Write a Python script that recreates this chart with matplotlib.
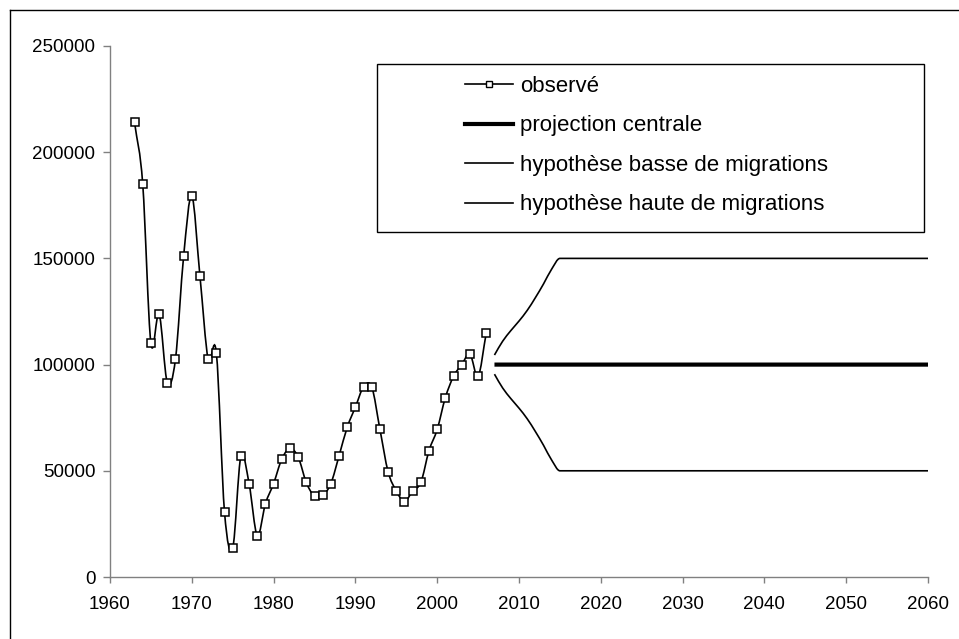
import numpy as np
import matplotlib
matplotlib.use("Agg")
import matplotlib.pyplot as plt
from matplotlib.path import Path
from matplotlib.patches import PathPatch, Rectangle
from matplotlib.lines import Line2D

plt.rcParams['font.family'] = ['Liberation Sans', 'DejaVu Sans']

# ---- data ----
obs_years = [1963, 1964, 1965, 1966, 1967, 1968, 1969, 1970, 1971, 1972, 1973,
             1974, 1975, 1976, 1977, 1978, 1979, 1980, 1981, 1982, 1983, 1984,
             1985, 1986, 1987, 1988, 1989, 1990, 1991, 1992, 1993, 1994, 1995,
             1996, 1997, 1998, 1999, 2000, 2001, 2002, 2003, 2004, 2005, 2006]
obs_values = [214000, 185000, 110000, 124000, 91500, 102500, 151000, 179500, 141500, 102500, 105500,
              30500, 13500, 57000, 44000, 19500, 34500, 44000, 55500, 60500, 56500, 44500,
              38000, 38500, 44000, 57000, 70500, 80000, 89500, 89500, 69500, 49500, 40500,
              35500, 40500, 44500, 59500, 69500, 84500, 94500, 100000, 105000, 94500, 115000]

proj_years = [2007, 2008, 2009, 2010, 2011, 2012, 2013, 2014, 2015, 2060]
central_values = [100000, 100000, 100000, 100000, 100000, 100000, 100000, 100000, 100000, 100000]
low_values = [95500, 89000, 84000, 79500, 74500, 68500, 62000, 55000, 50000, 50000]
high_values = [104500, 111000, 116000, 120500, 125500, 131500, 138000, 145000, 150000, 150000]

labels = ["observé", "projection centrale",
          "hypothèse basse de migrations", "hypothèse haute de migrations"]
x_ticks = [1960, 1970, 1980, 1990, 2000, 2010, 2020, 2030, 2040, 2050, 2060]
y_ticks = [0, 50000, 100000, 150000, 200000, 250000]


def smooth_path(x, y, kind="catmull"):
    x = np.asarray(x, float)
    y = np.asarray(y, float)
    n = len(x)
    h = np.diff(x)
    d = np.diff(y) / h
    m = np.zeros(n)
    if kind == "catmull":
        for i in range(n):
            if i == 0:
                m[i] = d[0]
            elif i == n - 1:
                m[i] = d[-1]
            else:
                m[i] = (y[i + 1] - y[i - 1]) / (x[i + 1] - x[i - 1])
    else:  # pchip-like, no overshoot
        for i in range(n):
            if i == 0:
                m[i] = d[0]
            elif i == n - 1:
                m[i] = 0.0
            else:
                if d[i - 1] * d[i] <= 0:
                    m[i] = 0.0
                else:
                    m[i] = 2.0 / (1.0 / d[i - 1] + 1.0 / d[i])
    verts = [(x[0], y[0])]
    codes = [Path.MOVETO]
    for i in range(n - 1):
        hh = h[i]
        verts += [(x[i] + hh / 3, y[i] + m[i] * hh / 3),
                  (x[i + 1] - hh / 3, y[i + 1] - m[i + 1] * hh / 3),
                  (x[i + 1], y[i + 1])]
        codes += [Path.CURVE4] * 3
    return Path(verts, codes)


fig = plt.figure(figsize=(9.59, 6.39), dpi=100)
ax = fig.add_axes([110 / 959, 62 / 639, 818 / 959, 531 / 639])

lw = 1.2
ax.add_patch(PathPatch(smooth_path(obs_years, obs_values, "catmull"),
                       fill=False, edgecolor="black", lw=lw))
ax.plot(obs_years, obs_values, linestyle="none", marker="s", ms=6,
        mfc="white", mec="black", mew=1.1, zorder=3)

ax.add_patch(PathPatch(smooth_path(proj_years, central_values, "pchip"),
                       fill=False, edgecolor="black", lw=3.0))
ax.add_patch(PathPatch(smooth_path(proj_years, low_values, "pchip"),
                       fill=False, edgecolor="black", lw=lw))
ax.add_patch(PathPatch(smooth_path(proj_years, high_values, "pchip"),
                       fill=False, edgecolor="black", lw=lw))

ax.set_xlim(1960, 2060)
ax.set_ylim(0, 250000)
ax.set_xticks(x_ticks)
ax.set_yticks(y_ticks)
ax.set_xticklabels([str(v) for v in x_ticks])
ax.set_yticklabels([str(v) for v in y_ticks])

for s in ["top", "right"]:
    ax.spines[s].set_visible(False)
for s in ["left", "bottom"]:
    ax.spines[s].set_color("#808080")
    ax.spines[s].set_linewidth(1.0)
ax.tick_params(axis="both", direction="out", width=1.0, color="#808080",
               labelsize=13.5, labelcolor="black")
ax.tick_params(axis="y", length=5, pad=5.5)
ax.tick_params(axis="x", length=4, pad=10)

# legend box
ax.add_patch(Rectangle((0.3264, 0.650), 0.995 - 0.3264, 0.966 - 0.650,
                       transform=ax.transAxes, fill=False, edgecolor="black",
                       lw=1.0, clip_on=False, zorder=5))

handles = [
    Line2D([], [], color="black", lw=1.2, marker="s", ms=5, mfc="white", mec="black", mew=1.0),
    Line2D([], [], color="black", lw=3.0),
    Line2D([], [], color="black", lw=1.2),
    Line2D([], [], color="black", lw=1.2),
]
fig.legend(handles, labels, loc="upper left", bbox_to_anchor=(465 / 959, 1 - 76 / 639),
           frameon=False, fontsize=16, handlelength=2.16, handletextpad=0.32,
           labelspacing=0.83, borderpad=0, borderaxespad=0)

# outer chart border (top and left visible)
fig.add_artist(Line2D([10 / 959, 10 / 959], [1 - 10 / 639, 0], transform=fig.transFigure,
                      color="black", lw=1.0))
fig.add_artist(Line2D([10 / 959, 1], [1 - 10 / 639, 1 - 10 / 639], transform=fig.transFigure,
                      color="black", lw=1.0))

fig.savefig("out.png", dpi=100)
